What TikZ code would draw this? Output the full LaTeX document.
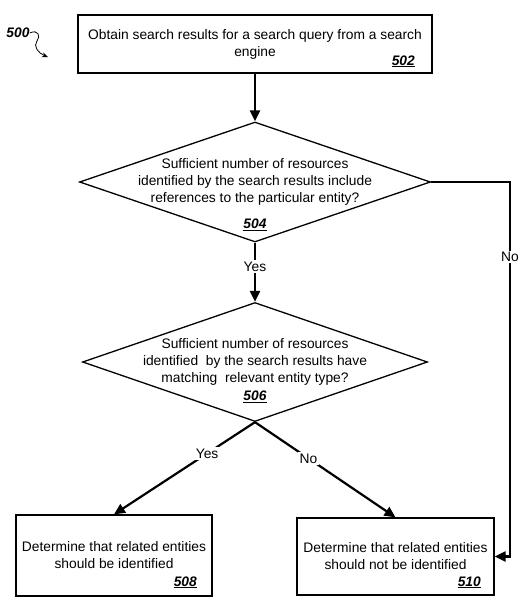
\documentclass[tikz,border=0pt]{standalone}
\usepackage{fontspec}
\setmainfont{Liberation Sans}
\usetikzlibrary{shapes.geometric,arrows.meta}
\newcommand{\refnum}[1]{{\bfseries\itshape\underline{#1}}}
\begin{document}
\begin{tikzpicture}[x=1pt,y=-1pt,
    font=\fontsize{13.8}{17}\selectfont,
    box/.style={draw, line width=1.3pt, align=center, inner sep=0pt},
    decide/.style={draw, diamond, line width=1.3pt, inner sep=0pt},
    num/.style={inner sep=0pt, anchor=base east},
    flow/.style={line width=2.2pt, -{Triangle[length=11pt,width=10pt]}},
    lbl/.style={fill=white, inner sep=1.5pt}]
   \useasboundingbox (0,0) rectangle (521,616);
   % reference label
   \node[inner sep=0pt] (fig) at (18,33) {\bfseries\itshape 500};
   \coordinate (figtip) at (48,57);
   \draw[line width=0.8pt, -{Stealth[length=6pt,width=5pt]}] (fig.east) .. controls (38,29) and (41,36) .. (37,41) .. controls (33,46) and (38,53) .. (figtip);
   % steps
   \node[box, minimum width=354pt, minimum height=58pt] (b502) at (255,44) {Obtain search results for a search query from a search\\engine};
   \node[num] (n502) at (415,65) {\refnum{502}};
   \node[decide, minimum width=351pt, minimum height=120pt] (d504) at (255,182) {};
   \node[align=center, inner sep=0pt] (t504) at (d504.center) {Sufficient number of resources\\identified by the search results include\\references to the particular entity?};
   \node[inner sep=0pt] (n504) at (255,225) {\refnum{504}};
   \node[decide, minimum width=345pt, minimum height=119pt] (d506) at (255,362) {};
   \node[align=center, inner sep=0pt] (t506) at (d506.center) {Sufficient number of resources\\identified\ \ by the search results have\\matching\ \ relevant entity type?};
   \node[inner sep=0pt] (n506) at (255,397) {\refnum{506}};
   \node[box, minimum width=196pt, minimum height=81pt] (b508) at (114,555.5) {Determine that related entities\\should be identified};
   \node[num] (n508) at (197,586) {\refnum{508}};
   \node[box, minimum width=197pt, minimum height=77pt] (b510) at (395.5,556.5) {Determine that related entities\\should not be identified};
   \node[num] (n510) at (481,586) {\refnum{510}};
   % connectors
   \coordinate (nocol) at (510,182);
   \draw[flow] (b502.south) -- (d504.north);
   \draw[flow] (d504.south) -- node[lbl, pos=0.4] {Yes} (d506.north);
   \draw[flow] (d504.east) -- (nocol) |- node[lbl, pos=0.1] {No} (b510.east);
   \draw[flow] (d506.south) -- node[lbl, pos=0.34] {Yes} (b508.north);
   \draw[flow] (d506.south) -- node[lbl, pos=0.38] {No} (b510.north);
\end{tikzpicture}
\end{document}
